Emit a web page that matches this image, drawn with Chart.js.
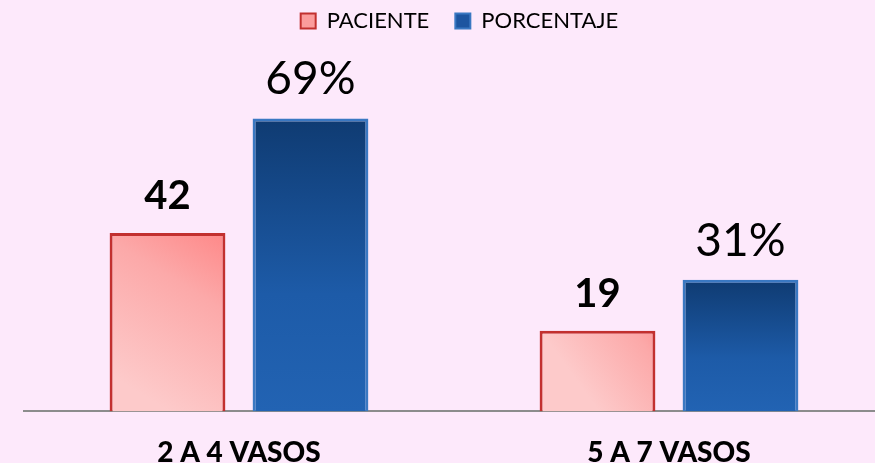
<!DOCTYPE html>
<html>
<head>
<meta charset="utf-8">
<script src="https://cdn.jsdelivr.net/npm/chart.js@4"></script>
<style>
  html, body { margin: 0; padding: 0; background: #fde9fb; overflow: hidden; }
  #wrap { width: 895px; height: 495px; }
</style>
</head>
<body>
<div id="wrap"><canvas id="chart"></canvas></div>
<script>
// --- datos ---
const categorias = ['2 A 4 VASOS', '5 A 7 VASOS'];
const pacientes = [42, 19];
const porcentajes = [69, 31];

// gradiente por barra (calculado con la escala)
function redFill(ctx) {
    const chart = ctx.chart;
    if (!chart.chartArea || ctx.parsed === undefined) return '#fca5a5';
    const y = chart.scales.y;
    const top = y.getPixelForValue(ctx.parsed.y);
    const bottom = y.getPixelForValue(0);
    const x = chart.scales.x.getPixelForValue(ctx.dataIndex);
    const g = chart.ctx.createLinearGradient(x - 70, bottom, x + 40, top);
    g.addColorStop(0, '#fdcaca');
    g.addColorStop(0.55, '#fca9a9');
    g.addColorStop(1, '#ff7a7a');
    return g;
}

function blueFill(ctx) {
    const chart = ctx.chart;
    if (!chart.chartArea || ctx.parsed === undefined) return '#1f5aa6';
    const y = chart.scales.y;
    const top = y.getPixelForValue(ctx.parsed.y);
    const bottom = y.getPixelForValue(0);
    const g = chart.ctx.createLinearGradient(0, top, 0, bottom);
    g.addColorStop(0, '#0f3b72');
    g.addColorStop(0.6, '#1d5ba8');
    g.addColorStop(1, '#2263b3');
    return g;
}

// etiquetas encima de las barras
const etiquetas = {
    id: 'etiquetas',
    afterDatasetsDraw(chart) {
        const c = chart.ctx;
        c.save();
        c.fillStyle = '#000';
        c.textAlign = 'center';
        c.textBaseline = 'alphabetic';
        chart.data.datasets.forEach((ds, i) => {
            const meta = chart.getDatasetMeta(i);
            meta.data.forEach((bar, j) => {
                if (i === 0) {
                    c.font = 'bold 40px Lato';
                    c.fillText(String(ds.data[j]), bar.x, bar.y - 24);
                } else {
                    c.font = '46px Lato';
                    c.fillText(ds.data[j] + '%', bar.x, bar.y - 24);
                }
            });
        });
        c.restore();
    }
};

new Chart(document.getElementById('chart'), {
    type: 'bar',
    data: {
        labels: categorias,
        datasets: [
            {
                label: 'PACIENTE',
                data: pacientes,
                backgroundColor: redFill,
                borderColor: '#c2302f',
                borderWidth: 3,
                barPercentage: 0.81,
                categoryPercentage: 0.665
            },
            {
                label: 'PORCENTAJE',
                data: porcentajes,
                backgroundColor: blueFill,
                borderColor: '#3a78c2',
                borderWidth: 3,
                barPercentage: 0.81,
                categoryPercentage: 0.665
            }
        ]
    },
    options: {
        responsive: true,
        maintainAspectRatio: false,
        animation: false,
        layout: { padding: { left: 24, right: 0, top: -16, bottom: 0 } },
        plugins: {
            legend: {
                position: 'top',
                labels: {
                    boxWidth: 15,
                    boxHeight: 15,
                    padding: 26,
                    color: '#000',
                    font: { family: 'Lato', size: 22 },
                    generateLabels(chart) {
                        return chart.data.datasets.map((ds, i) => ({
                            text: ds.label,
                            fillStyle: i === 0 ? '#fb9c9c' : '#1d55a0',
                            strokeStyle: i === 0 ? '#c2302f' : '#3a78c2',
                            lineWidth: 2,
                            datasetIndex: i
                        }));
                    }
                }
            },
            tooltip: { enabled: false }
        },
        scales: {
            x: {
                grid: { display: false, drawTicks: false },
                border: { display: true, color: '#8c8c8c', width: 2 },
                ticks: {
                    color: '#000',
                    padding: 25,
                    font: { family: 'Lato', size: 28, weight: '900' }
                }
            },
            y: {
                position: 'right',
                min: 0,
                max: 87,
                grid: { display: false, drawTicks: false },
                border: { display: false },
                ticks: { display: false },
                afterFit(scale) { scale.width = 11; }
            }
        }
    },
    plugins: [etiquetas]
});
</script>
</body>
</html>
